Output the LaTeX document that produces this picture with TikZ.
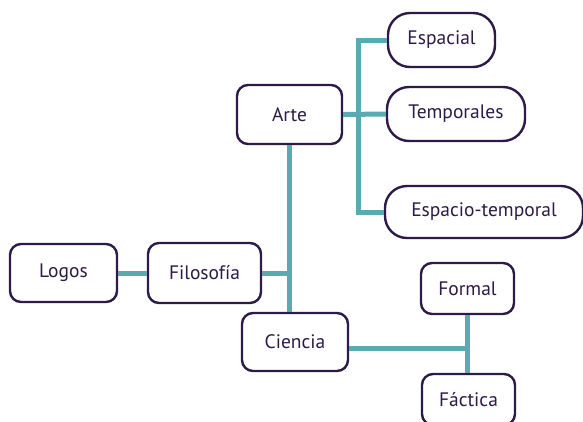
\documentclass[tikz,border=0pt]{standalone}
\usepackage{fontspec}
\setmainfont{PT Sans}
\usepackage{tikz}

\definecolor{tealline}{HTML}{5AAAB4}
\definecolor{plum}{HTML}{2E1A47}

\tikzset{
    concept/.style={draw=plum, line width=2.4pt, fill=white, rounded corners=11pt,
        text=plum, font=\fontsize{19.5}{22}\selectfont, inner sep=0pt},
    pill/.style={concept, rounded corners=22pt},
    link/.style={draw=tealline, line width=5pt}
}

\begin{document}
\begin{tikzpicture}[x=1pt, y=-1pt]
        \clip (0, 0) rectangle (583, 421);
        \useasboundingbox (0, 0) rectangle (583, 421);

        % teal connectors
        \coordinate (ajunc) at (358, 114);
        \coordinate (cjunc) at (467, 348);

        \node[concept, minimum width=107pt, minimum height=58pt] (logos) at (63.5, 273) {Logos};
        \node[concept, minimum width=113pt, minimum height=60pt] (filo) at (204.5, 273) {Filosofía};
        \node[concept, minimum width=105pt, minimum height=59pt] (arte) at (289.5, 114.5) {Arte};
        \node[concept, minimum width=106pt, minimum height=58pt] (ciencia) at (295, 342) {Ciencia};

        \node[pill, minimum width=107pt, minimum height=54pt] (esp) at (441.5, 40) {Espacial};
        \node[pill, minimum width=138pt, minimum height=54pt] (temp) at (456, 114) {Temporales};
        \node[pill, minimum width=198pt, minimum height=52pt] (et) at (484, 212) {Espacio-temporal};

        \node[concept, minimum width=93pt, minimum height=51pt] (formal) at (467.5, 288.5) {Formal};
        \node[concept, minimum width=93pt, minimum height=51pt] (factica) at (468.5, 399.5) {Fáctica};

        \draw[link] (logos) -- (filo);
        \draw[link] (filo.east) -- (filo.east -| arte.south);
        \draw[link] (arte.south) -- (arte.south |- ciencia.north);

        \draw[link] (arte.east) -- (temp.west);
        \draw[link] (esp.west) -- (esp.west -| ajunc) -- (et.west -| ajunc) -- (et.west);

        \draw[link] (ciencia.east |- cjunc) -- (cjunc);
        \draw[link] (formal.south -| cjunc) -- (factica.north -| cjunc);
\end{tikzpicture}
\end{document}
